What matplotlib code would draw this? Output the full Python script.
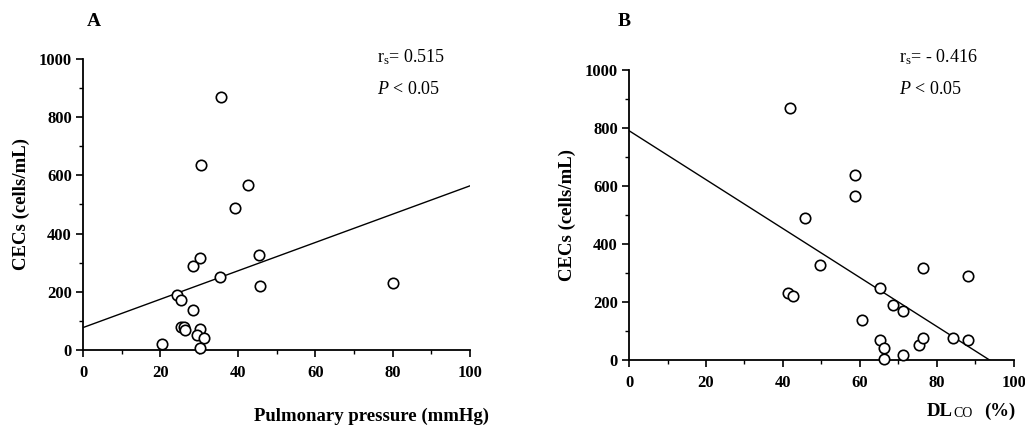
import matplotlib
matplotlib.use("Agg")
import matplotlib.pyplot as plt
import numpy as np
from matplotlib.ticker import MultipleLocator

plt.rcParams['font.family'] = ['Liberation Serif', 'DejaVu Serif']
plt.rcParams['mathtext.fontset'] = 'custom'
plt.rcParams['mathtext.rm'] = 'Liberation Serif'
plt.rcParams['mathtext.it'] = 'Liberation Serif:italic'
plt.rcParams['mathtext.bf'] = 'Liberation Serif:bold'

# Panel A: pulmonary pressure vs CECs
pressure = [35.6, 30.4, 42.5, 39.3, 45.5, 30.2, 28.5, 35.4, 45.6, 80.2, 24.2,
            25.3, 28.4, 25.2, 26.2, 26.4, 30.2, 29.4, 31.3, 30.1, 20.3]
cecs_a = [868, 636, 566, 488, 326, 317, 290, 250, 221, 230, 189,
          170, 138, 79, 78, 70, 71, 52, 42, 6, 21]
fit_a_x = [0, 100]
fit_a_y = [77, 564]

# Panel B: DLCO vs CECs
dlco = [41.9, 58.7, 58.7, 45.8, 49.6, 76.5, 88.2, 65.3, 41.3, 42.6, 68.5,
        71.2, 60.5, 65.3, 66.4, 66.4, 71.2, 75.3, 76.4, 84.2, 88.1]
cecs_b = [871, 637, 567, 489, 326, 316, 289, 248, 230, 221, 189,
          170, 137, 69, 40, 5, 18, 51, 77, 77, 69]
fit_b_x = [0, 93.7]
fit_b_y = [791, 0]

xticks = [0, 20, 40, 60, 80, 100]
yticks = [0, 200, 400, 600, 800, 1000]

fig = plt.figure(figsize=(10.25, 4.25), dpi=100)
axA = fig.add_axes([0.081, 0.1765, 0.3776, 0.685])
axB = fig.add_axes([0.6137, 0.153, 0.3753, 0.682])

def style(ax, xs, ys, fx, fy):
    ax.plot(fx, fy, color='black', lw=1.0)
    ax.plot(xs, ys, 'o', mfc='white', mec='black', ms=7.5, mew=1.2,
            linestyle='none', clip_on=False, zorder=3)
    ax.set_xlim(0, 100)
    ax.set_ylim(0, 1000)
    ax.set_xticks(xticks)
    ax.set_yticks(yticks)
    ax.xaxis.set_minor_locator(MultipleLocator(10))
    ax.yaxis.set_minor_locator(MultipleLocator(100))
    for s in ['top', 'right']:
        ax.spines[s].set_visible(False)
    for s in ['left', 'bottom']:
        ax.spines[s].set_linewidth(1.3)
    ax.tick_params(which='major', length=5, width=1.2, direction='out')
    ax.tick_params(axis='x', which='major', pad=6)
    ax.tick_params(axis='y', which='major', pad=3)
    ax.tick_params(which='minor', length=3, width=1.0, direction='out')
    for lab in ax.get_xticklabels() + ax.get_yticklabels():
        lab.set_fontweight('bold')
        lab.set_fontsize(12)
    ax.set_ylabel('CECs (cells/mL)', fontsize=13.5, fontweight='bold', labelpad=6)

style(axA, pressure, cecs_a, fit_a_x, fit_a_y)
style(axB, dlco, cecs_b, fit_b_x, fit_b_y)

# x labels
fig.text(372 / 1025, 1 - 416 / 425, 'Pulmonary pressure (mmHg)', ha='center',
         va='center', fontsize=13.5, fontweight='bold')
t_dl = fig.text(927 / 1025, 1 - 416 / 425, 'DL', ha='left', va='baseline',
                fontsize=13.5, fontweight='bold')
axB.annotate('CO', xy=(1, 0), xycoords=t_dl, xytext=(0.5, 0),
             textcoords='offset points', ha='left', va='bottom',
             fontsize=10, annotation_clip=False)
fig.text(1015 / 1025, 1 - 416 / 425, '(%)', ha='right', va='baseline',
         fontsize=13.5, fontweight='bold')

# panel letters
fig.text(94 / 1025, 1 - 22 / 425, 'A', ha='center', va='center',
         fontsize=14, fontweight='bold')
fig.text(624 / 1025, 1 - 22 / 425, 'B', ha='center', va='center',
         fontsize=14, fontweight='bold')

# stats annotations
fig.text(377 / 1025, 1 - 57 / 425, r'r$_{\mathrm{s}}$= 0.515', ha='left',
         va='center', fontsize=13)
fig.text(377 / 1025, 1 - 89 / 425, r'$\mathit{P}$ < 0.05', ha='left',
         va='center', fontsize=13)
fig.text(899 / 1025, 1 - 57 / 425, r'r$_{\mathrm{s}}$= - 0.416', ha='left',
         va='center', fontsize=13)
fig.text(899 / 1025, 1 - 89 / 425, r'$\mathit{P}$ < 0.05', ha='left',
         va='center', fontsize=13)

fig.savefig('out.png', dpi=100)
